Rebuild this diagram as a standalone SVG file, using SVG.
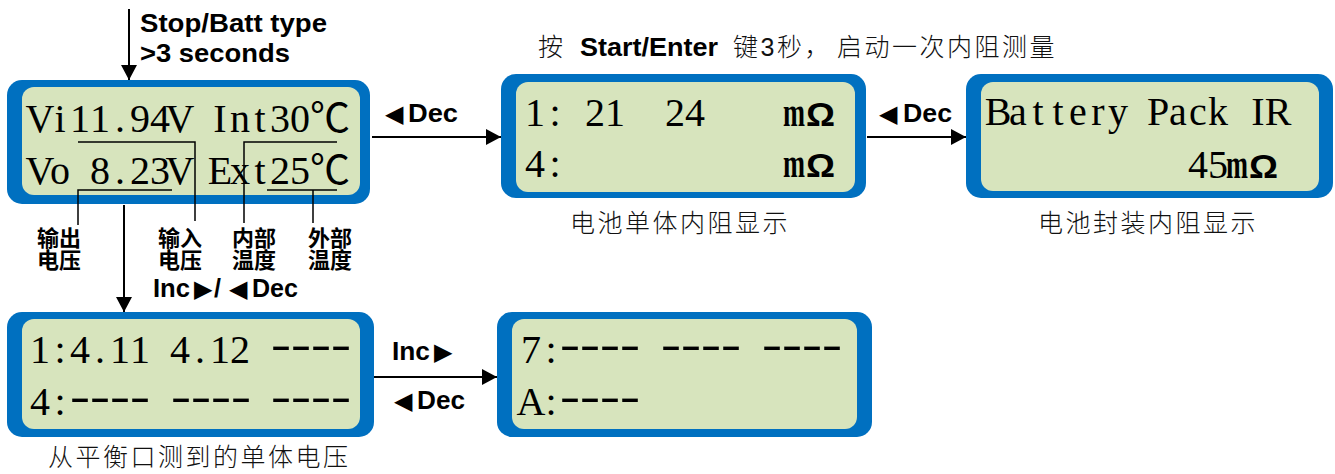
<svg xmlns="http://www.w3.org/2000/svg" width="1335" height="474" viewBox="0 0 1335 474">
<style>
.outer{fill:#0070C0}
.inner{fill:#D7E4BD}
.lcd{font-family:"Liberation Serif","Noto Sans CJK SC",serif;font-size:40px;fill:#000;text-anchor:middle;white-space:pre}
.dash{font-family:"Liberation Serif",serif;font-size:40px;font-weight:bold;fill:#000}
.mm{font-family:"Liberation Serif",serif;font-size:40px;font-weight:bold;fill:#000}
.om{font-family:"Liberation Sans",Arial,sans-serif;font-size:33px;font-weight:bold;fill:#000}
.lbl{font-family:"Liberation Sans",Arial,sans-serif;font-size:25px;font-weight:bold;fill:#000}
.tri{font-family:"DejaVu Sans",sans-serif;font-size:24px;fill:#000}
.cap{font-family:"Noto Sans CJK SC",sans-serif;font-size:25px;font-weight:300;fill:#111;letter-spacing:2.5px}
.note{font-family:"Noto Sans CJK SC",sans-serif;font-size:22px;font-weight:bold;fill:#000}
.ann{fill:none;stroke:#000;stroke-width:1.5}
.conn{fill:none;stroke:#000;stroke-width:2}
</style>
<defs>
<marker id="ah" markerUnits="userSpaceOnUse" markerWidth="16" markerHeight="16" refX="15" refY="8" orient="auto">
<path d="M0,0 L15,8 L0,16 z" fill="#000"/>
</marker>
</defs>

<g id="connectors">
<line class="conn" x1="129" y1="9" x2="129" y2="80" marker-end="url(#ah)"/>
<line class="conn" x1="372" y1="137" x2="501" y2="137" marker-end="url(#ah)"/>
<line class="conn" x1="867" y1="137" x2="966" y2="137" marker-end="url(#ah)"/>
<line class="conn" x1="124" y1="205" x2="124" y2="312" marker-end="url(#ah)"/>
<line class="conn" x1="368" y1="377" x2="497" y2="377" marker-end="url(#ah)"/>
</g>

<g id="labels">
<text class="lbl" x="140" y="32" textLength="187" lengthAdjust="spacingAndGlyphs">Stop/Batt type</text>
<text class="lbl" x="140" y="62" textLength="150" lengthAdjust="spacingAndGlyphs">&gt;3 seconds</text>
<text class="tri" x="385" y="122">◀</text>
<text class="lbl" x="408" y="122" textLength="50" lengthAdjust="spacingAndGlyphs">Dec</text>
<text class="tri" x="879" y="122">◀</text>
<text class="lbl" x="903" y="122" textLength="49" lengthAdjust="spacingAndGlyphs">Dec</text>
<text class="lbl" x="153" y="297" textLength="37" lengthAdjust="spacingAndGlyphs">Inc</text>
<text class="tri" x="194" y="297">▶</text>
<text class="lbl" x="214" y="297">/</text>
<text class="tri" x="229" y="297">◀</text>
<text class="lbl" x="252" y="297" textLength="46" lengthAdjust="spacingAndGlyphs">Dec</text>
<text class="lbl" x="392" y="360" textLength="38" lengthAdjust="spacingAndGlyphs">Inc</text>
<text class="tri" x="434" y="360">▶</text>
<text class="tri" x="394" y="409">◀</text>
<text class="lbl" x="417" y="409" textLength="48" lengthAdjust="spacingAndGlyphs">Dec</text>
<text class="cap" x="538" y="56" letter-spacing="0">按</text>
<text class="lbl" x="580" y="56" textLength="138" lengthAdjust="spacingAndGlyphs">Start/Enter</text>
<text class="cap" x="733" y="56" letter-spacing="0">键<tspan font-family="Liberation Sans,sans-serif">3</tspan>秒，</text>
<text class="cap" x="837" y="56">启动一次内阻测量</text>
<text class="cap" x="570" y="232">电池单体内阻显示</text>
<text class="cap" x="1038" y="232">电池封装内阻显示</text>
<text class="cap" x="48" y="466">从平衡口测到的单体电压</text>
</g>

<g id="node-main">
<rect class="outer" x="7" y="80" width="363" height="124" rx="15"/>
<rect class="inner" x="22" y="87" width="338" height="108" rx="12"/>
<text class="lcd" xml:space="preserve" x="40 60 80 100 120 140 160 180 200 220 240 260 280 300 330" y="132">Vi11.94V Int30℃</text>
<text class="lcd" xml:space="preserve" x="40 60 80 100 120 140 160 180 200 220 240 260 280 300 330" y="184">Vo 8.23V Ext25℃</text>
<path class="ann" d="M78,142 H195 V221"/>
<path class="ann" d="M172,190 H78 V225"/>
<path class="ann" d="M337,142 H244 V223"/>
<path class="ann" d="M267,190 H337 M313,190 V223"/>
<text class="note" x="37" y="246">输出</text>
<text class="note" x="37" y="268">电压</text>
<text class="note" x="158" y="246">输入</text>
<text class="note" x="158" y="268">电压</text>
<text class="note" x="232" y="246">内部</text>
<text class="note" x="232" y="268">温度</text>
<text class="note" x="308" y="246">外部</text>
<text class="note" x="308" y="268">温度</text>
</g>

<g id="node-cell-ir">
<rect class="outer" x="501" y="74" width="365" height="124" rx="15"/>
<rect class="inner" x="516" y="82" width="339" height="110" rx="12"/>
<text class="lcd" xml:space="preserve" x="535 555 575 595 615 635 655 675 695" y="126">1: 21  24</text>
<text class="mm" x="783" y="126"><tspan textLength="22" lengthAdjust="spacingAndGlyphs">m</tspan><tspan class="om" x="806" textLength="29" lengthAdjust="spacingAndGlyphs">Ω</tspan></text>
<text class="lcd" x="535 555" y="177">4:</text>
<text class="mm" x="783" y="177"><tspan textLength="22" lengthAdjust="spacingAndGlyphs">m</tspan><tspan class="om" x="806" textLength="29" lengthAdjust="spacingAndGlyphs">Ω</tspan></text>
</g>

<g id="node-pack-ir">
<rect class="outer" x="966" y="74" width="367" height="124" rx="15"/>
<rect class="inner" x="981" y="82" width="338" height="109" rx="12"/>
<text class="lcd" xml:space="preserve" x="998 1018 1038 1058 1078 1098 1118 1138 1158 1178 1198 1218 1238 1258 1278" y="125">Battery Pack IR</text>
<text class="lcd" x="1198 1218" y="178">45</text>
<text class="mm" x="1226" y="178"><tspan textLength="22" lengthAdjust="spacingAndGlyphs">m</tspan><tspan class="om" x="1249" textLength="29" lengthAdjust="spacingAndGlyphs">Ω</tspan></text>
</g>

<g id="node-cells-1">
<rect class="outer" x="7" y="312" width="367" height="125" rx="15"/>
<rect class="inner" x="22" y="319" width="338" height="110" rx="12"/>
<text class="lcd" xml:space="preserve" x="40 60 80 100 120 140 160 180 200 220 240" y="363">1:4.11 4.12</text>
<text class="dash" x="271" y="358" textLength="80" lengthAdjust="spacingAndGlyphs">----</text>
<text class="lcd" x="40 60" y="415">4:</text>
<text class="dash" x="70" y="410" textLength="80" lengthAdjust="spacingAndGlyphs">----</text>
<text class="dash" x="171" y="410" textLength="80" lengthAdjust="spacingAndGlyphs">----</text>
<text class="dash" x="271" y="410" textLength="80" lengthAdjust="spacingAndGlyphs">----</text>
</g>

<g id="node-cells-2">
<rect class="outer" x="497" y="312" width="375" height="125" rx="15"/>
<rect class="inner" x="512" y="319" width="345" height="110" rx="12"/>
<text class="lcd" x="531 551" y="363">7:</text>
<text class="dash" x="560" y="358" textLength="80" lengthAdjust="spacingAndGlyphs">----</text>
<text class="dash" x="661" y="358" textLength="80" lengthAdjust="spacingAndGlyphs">----</text>
<text class="dash" x="762" y="358" textLength="80" lengthAdjust="spacingAndGlyphs">----</text>
<text class="lcd" x="531 551" y="415">A:</text>
<text class="dash" x="560" y="410" textLength="80" lengthAdjust="spacingAndGlyphs">----</text>
</g>
</svg>
